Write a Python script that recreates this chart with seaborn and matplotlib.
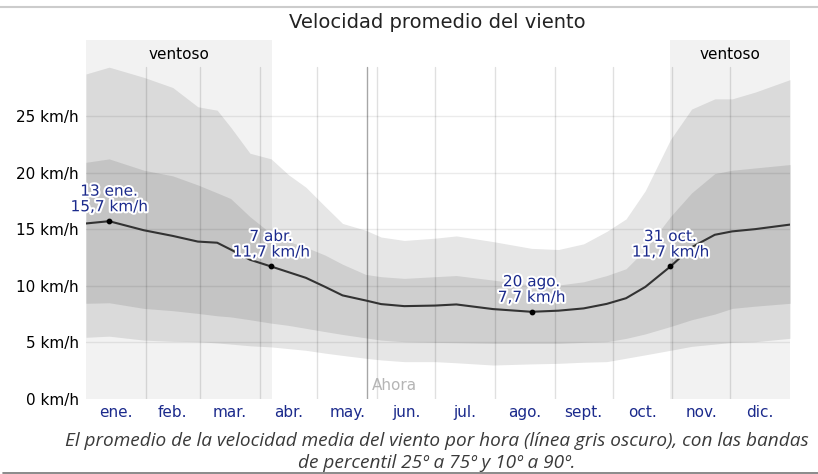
import numpy as np
import pandas as pd
import matplotlib
matplotlib.use('Agg')
import matplotlib.pyplot as plt
import matplotlib.patheffects as pe
from matplotlib.lines import Line2D
import seaborn as sns

# día del año (0 = 1 ene.) y percentiles de velocidad del viento (km/h)
days = [0, 12, 30, 45, 58, 68, 75, 85, 96, 105, 114, 124, 133, 145, 153, 165,
        181, 192, 211, 231, 245, 258, 270, 280, 290, 303, 314, 326, 335, 347, 365]
p90 = [28.7, 29.3, 28.4, 27.5, 25.8, 25.5, 24.0, 21.7, 21.2, 19.8, 18.7, 17.0,
       15.5, 14.9, 14.3, 14.0, 14.2, 14.4, 13.9, 13.3, 13.2, 13.7, 14.8, 15.9,
       18.4, 22.9, 25.6, 26.5, 26.5, 27.1, 28.2]
p75 = [20.9, 21.2, 20.2, 19.7, 18.9, 18.2, 17.7, 16.1, 14.6, 13.9, 13.4, 12.7,
       11.9, 11.0, 10.8, 10.65, 10.8, 10.9, 10.5, 10.06, 10.06, 10.35, 10.9, 11.5,
       13.2, 16.1, 18.2, 19.9, 20.2, 20.4, 20.7]
mean = [15.5, 15.7, 14.9, 14.4, 13.9, 13.8, 13.2, 12.3, 11.7, 11.2, 10.7, 9.9,
        9.15, 8.7, 8.38, 8.2, 8.25, 8.35, 7.94, 7.7, 7.8, 8.0, 8.4, 8.9,
        9.9, 11.7, 13.4, 14.5, 14.8, 15.0, 15.4]
p25 = [8.45, 8.5, 8.0, 7.8, 7.56, 7.35, 7.25, 7.0, 6.7, 6.5, 6.24, 5.95,
       5.7, 5.4, 5.2, 5.06, 5.0, 4.97, 4.91, 4.91, 4.91, 5.0, 5.06, 5.35,
       5.75, 6.4, 7.0, 7.5, 8.0, 8.2, 8.45]
p10 = [5.45, 5.55, 5.2, 5.1, 5.06, 4.95, 4.85, 4.7, 4.6, 4.45, 4.3, 4.05,
       3.85, 3.6, 3.45, 3.3, 3.3, 3.2, 3.0, 3.1, 3.15, 3.25, 3.3, 3.6,
       3.9, 4.3, 4.65, 4.85, 5.0, 5.06, 5.36]

month_labels = ['ene.', 'feb.', 'mar.', 'abr.', 'may.', 'jun.',
                'jul.', 'ago.', 'sept.', 'oct.', 'nov.', 'dic.']
month_starts = [0, 31, 59, 90, 120, 151, 181, 212, 243, 273, 304, 334, 365]

windy_ranges = [(0, 96.5), (303, 365)]
windy_label = 'ventoso'
now_day = 145.7

highlight_days = [12, 96, 231, 303]
highlight_vals = [15.7, 11.7, 7.7, 11.7]
highlight_labels = ['13 ene.\n15,7 km/h', '7 abr.\n11,7 km/h',
                    '20 ago.\n7,7 km/h', '31 oct.\n11,7 km/h']

yticks = [0, 5, 10, 15, 20, 25]

df = pd.DataFrame({'dia': days, 'media': mean})

sns.set_style('white')
plt.rcParams['font.family'] = ['DejaVu Sans']

fig = plt.figure(figsize=(8.18, 4.74), dpi=100)
ax = fig.add_axes([86 / 818, 75 / 474, 704 / 818, 359 / 474])

blue = '#1b2a8c'
top_lines = 29.3

# bandas de percentiles
ax.fill_between(days, p10, p90, color='#e6e6e6', lw=0, zorder=1)
ax.fill_between(days, p25, p75, color='#cfcfcf', lw=0, zorder=2)

# cuadricula
for y in yticks[1:]:
    ax.axhline(y, color='black', alpha=0.08, lw=1, zorder=3)
for m in month_starts[1:-1]:
    ax.plot([m, m], [0, top_lines], color='black', alpha=0.12, lw=1, zorder=3)
ax.plot([now_day, now_day], [0, top_lines], color='black', alpha=0.35, lw=1, zorder=3)
ax.text(now_day + 2.5, 0.5, 'Ahora', color='#b5b5b5', fontsize=11,
        ha='left', va='bottom', zorder=4)

# temporada ventosa
for x0, x1 in windy_ranges:
    ax.axvspan(x0, x1, color='black', alpha=0.05, lw=0, zorder=4)
    ax.text((x0 + x1) / 2, 30.4, windy_label, ha='center', va='center',
            fontsize=11, color='black', zorder=6)

sns.lineplot(data=df, x='dia', y='media', color='#333333', lw=1.5, ax=ax, zorder=5)

ax.scatter(highlight_days, highlight_vals, color='black', s=10, zorder=6)
for d, v, lab in zip(highlight_days, highlight_vals, highlight_labels):
    ax.annotate(lab, (d, v), xytext=(0, 5), textcoords='offset points',
                ha='center', va='bottom', fontsize=11, color=blue,
                linespacing=1.05, zorder=7,
                path_effects=[pe.withStroke(linewidth=3, foreground='white')])

ax.set_xlim(0, 365)
ax.set_ylim(0, 31.7)
mids = [(a + b) / 2 for a, b in zip(month_starts[:-1], month_starts[1:])]
ax.set_xticks(mids)
ax.set_xticklabels(month_labels, color=blue, fontsize=11)
ax.set_yticks(yticks)
ax.set_yticklabels([f'{y} km/h' for y in yticks], fontsize=11, color='black')
ax.tick_params(axis='both', length=0)
ax.tick_params(axis='x', pad=4)
ax.tick_params(axis='y', pad=5)
ax.set_xlabel('')
ax.set_ylabel('')
for s in ax.spines.values():
    s.set_visible(False)

fig.text(437 / 818, 1 - 22 / 474, 'Velocidad promedio del viento', ha='center',
         va='center', fontsize=14, color='#222222')
cap_font = ['Open Sans', 'DejaVu Sans']
fig.text(437 / 818, 1 - 441 / 474,
         'El promedio de la velocidad media del viento por hora (línea gris oscuro), con las bandas',
         ha='center', va='center', fontsize=13.7, style='italic', family=cap_font, color='#3a3a3a')
fig.text(437 / 818, 1 - 463 / 474, 'de percentil 25º a 75º y 10º a 90º.',
         ha='center', va='center', fontsize=13.7, style='italic', family=cap_font, color='#3a3a3a')

fig.add_artist(Line2D([0, 1], [1 - 7 / 474] * 2, color='#cccccc', lw=1.5,
                      transform=fig.transFigure))
fig.add_artist(Line2D([3 / 818, 1], [1 - 472.5 / 474] * 2, color='#777777', lw=1.2,
                      transform=fig.transFigure))

fig.savefig('out.png', dpi=100)
